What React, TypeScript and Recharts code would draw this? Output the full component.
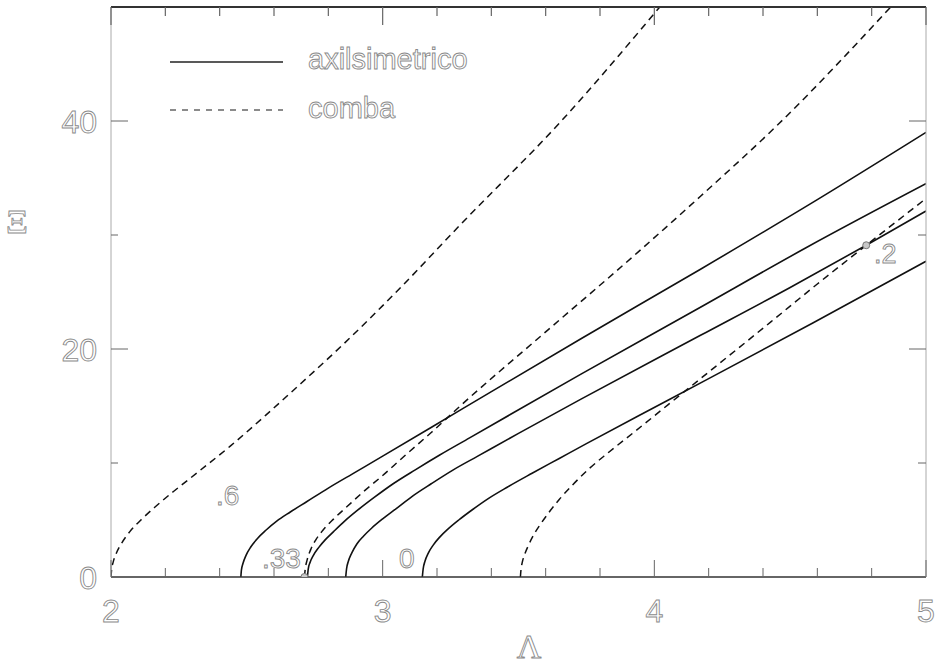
import React from 'react';
import { ComposedChart, Line, Scatter, XAxis, YAxis } from 'recharts';

type Pt = [number, number];

// solid curves (axilsimetrico), [Λ, Ξ]
const axi06: Pt[] = [
  [2.478, 0], [2.48, 0.6], [2.486, 1.2], [2.497, 1.9], [2.515, 2.65], [2.54, 3.4],
  [2.57, 4.1], [2.61, 4.9], [2.66, 5.7], [2.72, 6.6], [2.8, 7.8], [2.9, 9.2], [3.0, 10.6],
  [3.29, 14.7], [3.73, 20.9], [4.17, 27.0], [4.6, 33.1], [5.0, 39.0],
];
const axi033: Pt[] = [
  [2.723, 0], [2.726, 0.7], [2.733, 1.3], [2.745, 1.9], [2.765, 2.6], [2.79, 3.3],
  [2.82, 4.0], [2.86, 4.9], [2.91, 5.9], [2.97, 7.0], [3.04, 8.2], [3.12, 9.4],
  [3.21, 10.7], [3.32, 12.2], [3.73, 17.8], [4.15, 23.4], [4.56, 28.9], [5.0, 34.5],
];
const axi02: Pt[] = [
  [2.864, 0], [2.867, 0.7], [2.874, 1.4], [2.886, 2.1], [2.905, 2.9], [2.93, 3.6],
  [2.96, 4.3], [3.0, 5.1], [3.05, 6.0], [3.11, 7.1], [3.18, 8.2], [3.26, 9.4],
  [3.35, 10.6], [3.5, 12.6], [3.73, 15.6], [4.17, 21.2], [4.5, 25.4], [4.78, 29.1], [5.0, 32.1],
];
const axi0: Pt[] = [
  [3.146, 0], [3.149, 0.7], [3.156, 1.4], [3.168, 2.1], [3.186, 2.8], [3.21, 3.5],
  [3.24, 4.2], [3.28, 5.0], [3.33, 5.9], [3.39, 6.9], [3.46, 7.9], [3.55, 9.1],
  [3.65, 10.4], [3.75, 11.7], [4.05, 15.5], [4.585, 22.3], [5.0, 27.7],
];

// dashed curves (comba)
const comba06: Pt[] = [
  [2.0, 0], [2.002, 0.6], [2.008, 1.3], [2.02, 2.1], [2.04, 3.0], [2.07, 4.0], [2.11, 5.0],
  [2.16, 6.1], [2.23, 7.5], [2.32, 9.2], [2.44, 11.5], [2.57, 14.2], [2.7, 17.0],
  [2.85, 20.3], [3.05, 25.0], [3.29, 31.0], [3.65, 39.8], [4.02, 50],
];
const comba033: Pt[] = [
  [2.712, 0], [2.715, 0.7], [2.722, 1.5], [2.735, 2.4], [2.755, 3.3], [2.78, 4.1],
  [2.82, 5.1], [2.87, 6.2], [2.93, 7.5], [3.0, 8.9], [3.07, 10.4], [3.18, 12.7],
  [3.29, 15.1], [3.6, 21.5], [3.94, 28.5], [4.17, 33.4], [4.46, 39.8], [4.87, 50],
];
const comba0: Pt[] = [
  [3.507, 0], [3.509, 0.6], [3.514, 1.3], [3.523, 2.0], [3.537, 2.8], [3.556, 3.7],
  [3.58, 4.6], [3.61, 5.6], [3.65, 6.8], [3.7, 8.1], [3.76, 9.5], [3.83, 10.9],
  [3.92, 12.6], [4.05, 15.1], [4.17, 17.4], [4.43, 22.4], [4.6, 25.7], [4.78, 29.1], [5.0, 33.2],
];

const markers: Pt[] = [[2.712, 0], [4.78, 29.1]];

const xTicks = [2, 2.2, 2.4, 2.6, 2.8, 3, 3.2, 3.4, 3.6, 3.8, 4, 4.2, 4.4, 4.6, 4.8, 5];
const yTicks = [0, 10, 20, 30, 40];
const yLabels = [0, 20, 40];
const X_MIN = 2;
const X_MAX = 5;

// plot box in px (set by the chart margins below)
const PLOT_LEFT = 111;
const PLOT_RIGHT = 926;
const PLOT_TOP = 7;
const PLOT_BOTTOM = 577;

const toRows = (pts: Pt[]) => pts.map(([x, y]) => ({ x, y }));
const topTickX = (v: number) => PLOT_LEFT + ((v - X_MIN) / (X_MAX - X_MIN)) * (PLOT_RIGHT - PLOT_LEFT);

const outline = { fill: '#fff', stroke: '#8a8a8a', strokeWidth: 0.9 };
const TICK = '#666';

function BottomTick({ x, y, payload }: any) {
  const major = Number.isInteger(payload.value);
  return (
    <g>
      <line x1={x} y1={y} x2={x} y2={y - (major ? 17 : 9)} stroke={TICK} />
      {major && (
        <text x={x} y={y + 45} textAnchor="middle" fontSize={32} fontFamily="Liberation Sans" {...outline}>
          {payload.value}
        </text>
      )}
    </g>
  );
}

function LeftTick({ x, y, payload }: any) {
  const major = yLabels.includes(payload.value);
  return (
    <g>
      <line x1={x} y1={y} x2={x + (major ? 17 : 7)} y2={y} stroke={TICK} />
      {major && (
        <text x={x - 14} y={y + 12} textAnchor="end" fontSize={32} fontFamily="Liberation Sans" {...outline}>
          {payload.value}
        </text>
      )}
    </g>
  );
}

function RightTick({ x, y, payload }: any) {
  const major = yLabels.includes(payload.value);
  return <line x1={x} y1={y} x2={x - (major ? 17 : 8)} y2={y} stroke={TICK} />;
}

const Marker = (props: any) => (
  <circle cx={props.cx} cy={props.cy} r={3.5} fill="#c8c8c8" stroke="#777" strokeWidth={1} />
);

export default function App() {
  const solid = { stroke: '#111', strokeWidth: 1.6, dot: false, isAnimationActive: false, type: 'monotone' as const };
  const dashed = { ...solid, strokeWidth: 1.5, strokeDasharray: '7 5' };

  return (
    <div style={{ position: 'absolute', left: 0, top: 0, width: 936, height: 665, background: '#fff' }}>
      <ComposedChart
        width={936} height={665}
        margin={{ top: PLOT_TOP, right: 936 - PLOT_RIGHT - 1, bottom: 665 - PLOT_BOTTOM - 30, left: PLOT_LEFT - 60 }}
      >
        <XAxis
          dataKey="x" type="number" domain={[X_MIN, X_MAX]} ticks={xTicks} allowDataOverflow
          height={30} tickSize={0} tickMargin={0} tickLine={false}
          axisLine={{ stroke: '#333', strokeWidth: 1.4 }} tick={<BottomTick />} interval={0}
        />
        <YAxis
          type="number" domain={[0, 50]} ticks={yTicks} allowDataOverflow width={60}
          tickSize={0} tickMargin={0} tickLine={false}
          axisLine={{ stroke: '#aaa' }} tick={<LeftTick />} interval={0}
        />
        <YAxis
          yAxisId="right" orientation="right" type="number" domain={[0, 50]} ticks={yTicks}
          allowDataOverflow width={1} tickSize={0} tickMargin={0} tickLine={false}
          axisLine={{ stroke: '#aaa' }} tick={<RightTick />} interval={0}
        />

        <Line data={toRows(axi06)} dataKey="y" {...solid} />
        <Line data={toRows(axi033)} dataKey="y" {...solid} />
        <Line data={toRows(axi02)} dataKey="y" {...solid} />
        <Line data={toRows(axi0)} dataKey="y" {...solid} />

        <Line data={toRows(comba06)} dataKey="y" {...dashed} />
        <Line data={toRows(comba033)} dataKey="y" {...dashed} />
        <Line data={toRows(comba0)} dataKey="y" {...dashed} />

        <Scatter
          data={toRows(markers)} dataKey="y" yAxisId="right"
          shape={<Marker />} isAnimationActive={false}
        />
      </ComposedChart>

      {/* top frame with inward ticks, legend, curve labels and axis titles */}
      <svg width={936} height={665} style={{ position: 'absolute', left: 0, top: 0, pointerEvents: 'none' }}>
        <rect x={PLOT_LEFT} y={PLOT_TOP - 1} width={PLOT_RIGHT - PLOT_LEFT} height={2} fill="#333" />
        {xTicks.map((v) => (
          <rect
            key={v}
            x={topTickX(v) - 0.6}
            y={PLOT_TOP}
            width={1.2}
            height={Number.isInteger(v) ? 18 : 9}
            fill={TICK}
          />
        ))}

        <line x1={170} y1={62} x2={283} y2={62} stroke="#222" strokeWidth={1.5} />
        <text x={308} y={69} fontSize={29} fontFamily="Liberation Sans" {...outline}>axilsimetrico</text>
        <line x1={170} y1={110} x2={283} y2={110} stroke="#666" strokeWidth={1.3} strokeDasharray="6 6" />
        <text x={308} y={118} fontSize={29} fontFamily="Liberation Sans" {...outline}>comba</text>

        <text x={216} y={505} fontSize={28} fontFamily="Liberation Sans" {...outline}>.6</text>
        <text x={262} y={568} fontSize={28} fontFamily="Liberation Sans" {...outline}>.33</text>
        <text x={399} y={568} fontSize={28} fontFamily="Liberation Sans" {...outline}>0</text>
        <text x={874} y={263} fontSize={27} fontFamily="Liberation Sans" {...outline}>.2</text>

        <text x={529} y={658} textAnchor="middle" fontSize={34} fontFamily="Liberation Serif" {...outline}>Λ</text>
        <text x={17} y={233} textAnchor="middle" fontSize={34} fontFamily="Liberation Serif" {...outline}>Ξ</text>
      </svg>
    </div>
  );
}
